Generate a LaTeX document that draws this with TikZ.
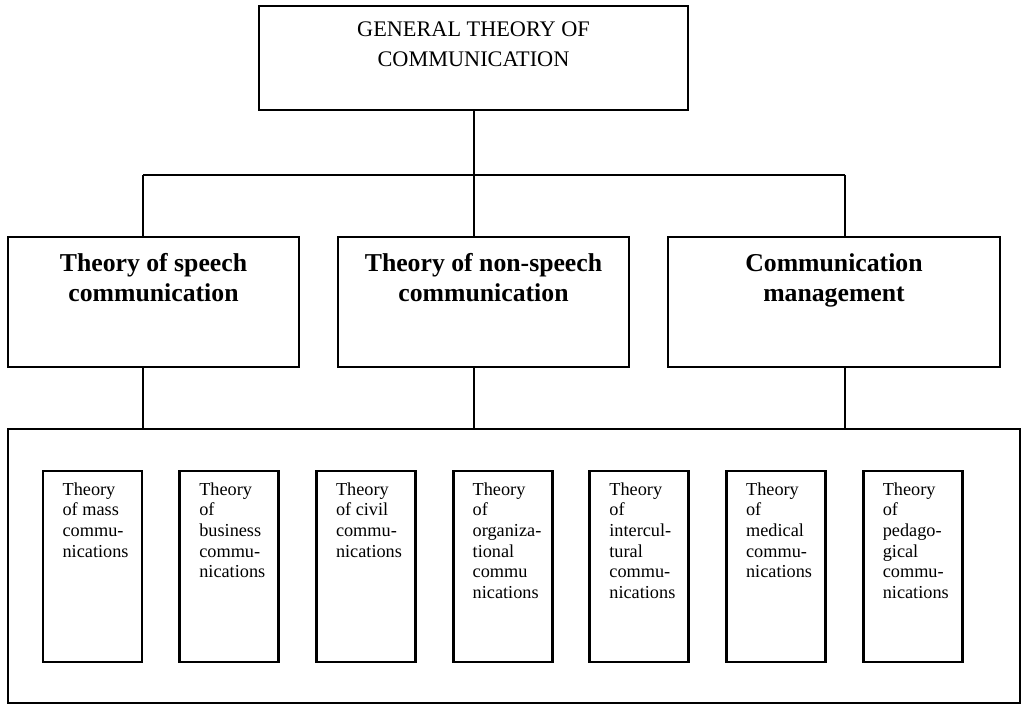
\documentclass[tikz,border=0pt]{standalone}
\usepackage{fontspec}
\setmainfont{Liberation Serif}

\tikzset{every picture/.style={line width=1.5pt}}
\tikzset{
  topbox/.style={draw, line width=1.9pt, inner sep=0pt, minimum width=429*0.75pt, minimum height=104*0.75pt},
  midbox/.style={draw, line width=1.9pt, inner sep=0pt, minimum width=291*0.75pt, minimum height=130*0.75pt},
  bigframe/.style={draw, line width=1.6pt, inner sep=0pt, minimum width=1012*0.75pt, minimum height=274*0.75pt},
  smallbox/.style={draw, line width=2.1pt, inner sep=0pt, minimum width=99*0.75pt, minimum height=191*0.75pt},
  toptext/.style={anchor=north, inner sep=0pt, align=center, font=\fontsize{16.7}{22.5}\selectfont},
  midtext/.style={anchor=north, inner sep=0pt, align=center, font=\fontsize{19.3}{22.5}\selectfont\bfseries},
  smalltext/.style={anchor=north west, inner sep=0pt, align=left, font=\fontsize{13.7}{15.5}\selectfont},
  link/.style={line width=1.5pt}
}

\begin{document}
\begin{tikzpicture}[x=0.75pt,y=0.75pt,yscale=-1,xscale=1]
	\useasboundingbox (0,0) rectangle (1022,705);

	%Shape: Rectangle
	\node[topbox] (top) at (473.5,58) {};
	%Shape: Rectangle
	\node[midbox] (sp) at (153.5,302) {};
	%Shape: Rectangle
	\node[midbox] (ns) at (483.5,302) {};
	%Shape: Rectangle
	\node[midbox, minimum width=332*0.75pt] (cm) at (834,302) {};
	%Shape: Rectangle
	\node[bigframe] (all) at (514,566) {};

	% Text Node
	\node[toptext] (toplbl) at ([shift={(0,16)}]top.north) {GENERAL THEORY OF\\COMMUNICATION};
	% Text Node
	\node[midtext] (splbl) at ([shift={(0,17)}]sp.north) {Theory of speech\\communication};
	% Text Node
	\node[midtext] (nslbl) at ([shift={(0,17)}]ns.north) {Theory of non-speech\\communication};
	% Text Node
	\node[midtext] (cmlbl) at ([shift={(0,17)}]cm.north) {Communication\\management};

	%Small boxes with their text
	\foreach \i/\txt in {0/{Theory\\of mass\\commu-\\nications},
	                    1/{Theory\\of\\business\\commu-\\nications},
	                    2/{Theory\\of civil\\commu-\\nications},
	                    3/{Theory\\of\\organiza-\\tional\\commu\\nications},
	                    4/{Theory\\of\\intercul-\\tural\\commu-\\nications},
	                    5/{Theory\\of\\medical\\commu-\\nications},
	                    6/{Theory\\of\\pedago-\\gical\\commu-\\nications}} {
		\node[smallbox] (t\i) at ({92.5+136.7*\i},566.5) {};
		\node[smalltext] (tx\i) at ([shift={(20,12)}]t\i.north west) {\txt};
	}

	%Straight Lines
	\coordinate (jl) at (143,175);
	\coordinate (jr) at (845,175);
	\draw[link] (top.south) -- (top.south |- ns.north);
	\draw[link] (jl) -- (jr);
	\draw[link] (jl) -- (jl |- sp.north);
	\draw[link] (jr) -- (jr |- cm.north);
	\draw[link] (jl |- sp.south) -- (jl |- all.north);
	\draw[link] (top.south |- ns.south) -- (top.south |- all.north);
	\draw[link] (jr |- cm.south) -- (jr |- all.north);
\end{tikzpicture}
\end{document}
